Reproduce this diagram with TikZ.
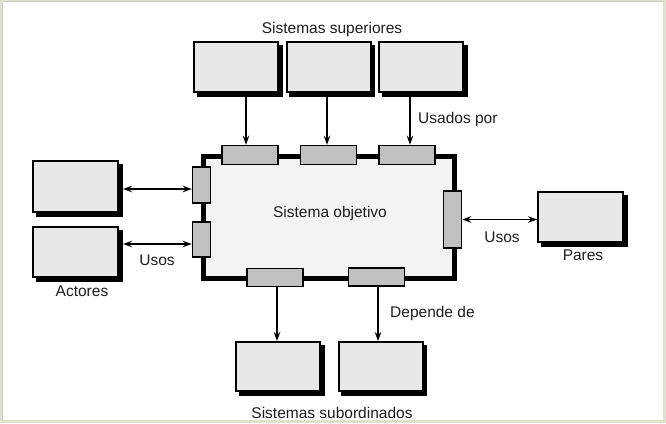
\documentclass[tikz,border=0pt]{standalone}
\usepackage{fontspec}
\setmainfont{Liberation Sans}
\usetikzlibrary{arrows.meta}
\definecolor{framec}{RGB}{222,225,205}
\definecolor{boxfill}{RGB}{232,232,232}
\definecolor{mainfill}{RGB}{243,243,243}
\definecolor{portfill}{RGB}{192,192,192}
\definecolor{txt}{RGB}{30,30,30}
\begin{document}
\begin{tikzpicture}[x=1pt,y=-1pt,
  sysbox/.style={draw=black,line width=2pt,fill=boxfill,minimum width=84pt,minimum height=50pt,inner sep=0pt,
    preaction={draw=black,fill=black,line width=2pt,transform canvas={xshift=3.5pt,yshift=-3.5pt}}},
  mainbox/.style={draw=black,line width=5pt,fill=mainfill,minimum width=251pt,minimum height=122pt,inner sep=0pt},
  hport/.style={draw=black,line width=1.5pt,fill=portfill,minimum width=56pt,minimum height=18pt,inner sep=0pt},
  vport/.style={draw=black,line width=1.5pt,fill=portfill,minimum width=18pt,minimum height=36pt,inner sep=0pt},
  lbl/.style={text=txt,font=\fontsize{15.5}{17}\selectfont,inner sep=0pt},
  arr/.style={line width=1.6pt,-{Stealth[length=9pt,width=6.5pt]}},
  darr/.style={line width=1.6pt,{Stealth[length=9pt,width=6.5pt]}-{Stealth[length=9pt,width=6.5pt]}}
]
\useasboundingbox (0,0) rectangle (666,423);
\fill[framec] (0,0) rectangle (666,423);
\fill[white] (3,2) rectangle (663,420);
\draw[line width=1pt,color={rgb,255:red,205;green,205;blue,195}] (2.5,1.5) -- (663,1.5);
\draw[line width=1pt,color={rgb,255:red,205;green,205;blue,195}] (2.5,1.5) -- (2.5,420);

% main system
\node[mainbox] (main) at (328.5,217) {};
\node[lbl] (mainlbl) at (330,213) {Sistema objetivo};

% top superior systems
\node[sysbox] (top1) at (236,67) {};
\node[sysbox] (top2) at (328.5,67) {};
\node[sysbox] (top3) at (421,67) {};
\node[lbl] (suplbl) at (332,29) {Sistemas superiores};

% actors
\node[sysbox,minimum width=85pt,minimum height=51pt] (act1) at (75.5,186.5) {};
\node[sysbox,minimum width=85pt] (act2) at (75.5,252) {};
\node[lbl] (actlbl) at (82,291) {Actores};

% peers
\node[sysbox,minimum width=85pt] (par) at (580.5,217) {};
\node[lbl] (parlbl) at (583,255) {Pares};

% subordinate systems
\node[sysbox,minimum height=49pt] (sub1) at (278,366.5) {};
\node[sysbox,minimum height=49pt] (sub2) at (380.5,366.5) {};
\node[lbl] (sublbl) at (332,413) {Sistemas subordinados};

% ports
\node[hport,minimum height=19pt] (pt1) at (250,155) {};
\node[hport,minimum height=19pt] (pt2) at (328.5,155) {};
\node[hport,minimum height=19pt] (pt3) at (407,155) {};
\node[vport] (pl1) at (201.5,185) {};
\node[vport,minimum height=35pt] (pl2) at (201.5,239.5) {};
\node[vport,minimum height=57pt] (pr) at (452.5,219.5) {};
\node[hport] (pb1) at (275,277.5) {};
\node[hport] (pb2) at (376.5,277) {};

% connectors
\draw[arr] ([xshift=10pt]top1.south) -- ([xshift=-4pt]pt1.north);
\draw[arr] ([xshift=-1.5pt]top2.south) -- ([xshift=-1.5pt]pt2.north);
\draw[arr] ([xshift=-11pt]top3.south) -- ([xshift=3pt]pt3.north);
\node[lbl,anchor=west] (usadoslbl) at (418,119) {Usados por};

\draw[darr] ([yshift=-4pt]pl1.west) -- ([yshift=-4pt,xshift=4pt]pl1.west -| act1.east);
\draw[darr] ([yshift=-4.5pt]pl2.west) -- ([yshift=-4.5pt,xshift=4pt]pl2.west -| act2.east);
\node[lbl] (usos1) at (157,260) {Usos};

\draw[darr] (pr.east) -- (pr.east -| par.west);
\node[lbl] (usos2) at (502,237) {Usos};

\draw[arr] ([xshift=2pt]pb1.south) -- ([xshift=2pt]pb1.south |- sub1.north);
\draw[arr] ([xshift=1.5pt]pb2.south) -- ([xshift=1.5pt]pb2.south |- sub2.north);
\node[lbl,anchor=west] (deplbl) at (390,313) {Depende de};
\end{tikzpicture}
\end{document}
